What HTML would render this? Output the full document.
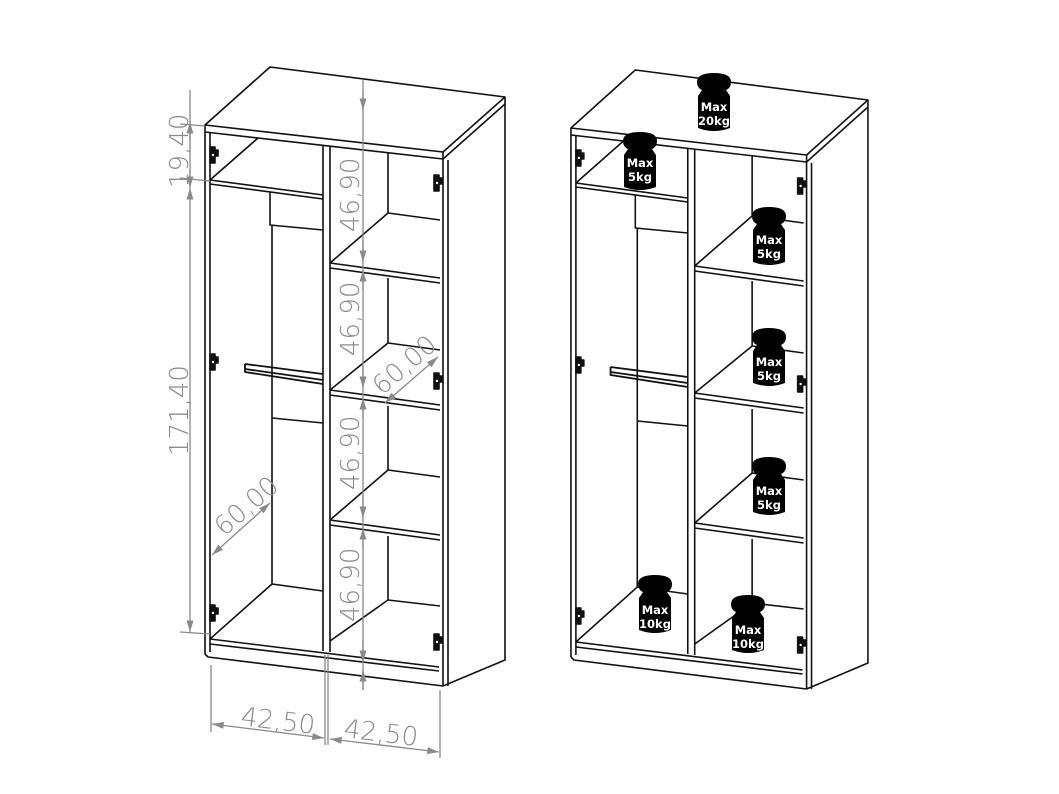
<!DOCTYPE html>
<html><head><meta charset="utf-8"><style>
html,body{margin:0;padding:0;background:#fff;}
svg{display:block}
.dim{font-family:"DejaVu Sans","Liberation Sans",sans-serif;font-size:26px;fill:#8a8a8a;font-weight:300}
.w{font-family:"DejaVu Sans","Liberation Sans",sans-serif;font-size:11.5px;font-weight:bold;fill:#fff;text-anchor:middle}
</style></head><body>
<svg width="1059" height="794" viewBox="0 0 1059 794" xmlns="http://www.w3.org/2000/svg">
<defs>
<marker id="ar" viewBox="0 0 10 10" refX="10" refY="5" markerWidth="9" markerHeight="9" orient="auto-start-reverse"><path d="M0,2 L10,5 L0,8 z" fill="#8a8a8a"/></marker>
<g id="hinge"><path d="M-3,-8 h5 v3 h3 v6 h-3 v7 h-5 z" fill="#111"/><circle cx="0" cy="0" r="2" fill="#fff"/></g>
<g id="cab" fill="none" stroke="#111" stroke-width="1.6" stroke-linejoin="round">
 <path d="M205,125 L270,67 L505,97 L443,152 Z" fill="#fff"/>
 <path d="M205,125 L205,132 L443,159 L443,152"/>
 <path d="M443,159 L505,104 L505,97"/>
 <path d="M443,159 L443,686 M448,160 L448,686 M505,104 L505,660 L443,686"/>
 <path d="M205,132 L205,654 M210,133 L210,652"/>
 <path d="M205,654 L208,657 L443,686 M210,639 L439,667 M210,644 L439,671"/>
 <path d="M323,146 L323,651 M330,147 L330,652"/>
 <path d="M210,180 L258,138 M210,180 L323,195 M210,184 L323,199"/>
 <path d="M270,192 L270,225 L323,230 M272,226 L272,584 M272,392 L272,418 L323,423"/>
 <path d="M245,364 L323,374 M245,369 L323,380 M245,364 L245,372 L323,384" stroke-width="1.8"/>
 <path d="M210,639 L272,584 L323,591"/>
 <path d="M388,152 L388,213 M388,278 L388,343 M388,406 L388,470 M388,536 L388,600"/>
 <path d="M330,263 L388,213 L440,220 M330,263 L440,278 M330,268 L440,283"/>
 <path d="M330,390 L388,343 L440,350 M330,390 L440,405 M330,395 L440,410"/>
 <path d="M330,520 L388,470 L440,477 M330,520 L440,535 M330,525 L440,540"/>
 <path d="M330,641 L388,600 L440,606"/>
 <use href="#hinge" x="213" y="155"/><use href="#hinge" x="213" y="362"/><use href="#hinge" x="213" y="613"/>
 <use href="#hinge" x="437" y="183"/><use href="#hinge" x="437" y="381"/><use href="#hinge" x="437" y="642"/>
</g>
<g id="wt"><path d="M-17,-22 Q-17,-31 0,-31 Q17,-31 17,-22 Q17,-16 12,-14 L16,-8 L16,24 Q0,30 -16,24 L-16,-8 L-12,-14 Q-17,-16 -17,-22 Z" fill="#000"/></g>
</defs>
<use href="#cab"/>
<use href="#cab" transform="translate(368,3) scale(0.99,1)"/>
<g stroke="#8a8a8a" stroke-width="1.3" fill="none">
 <line x1="190" y1="90" x2="190" y2="180" />
 <line x1="190" y1="140" x2="190" y2="122" marker-end="url(#ar)"/>
 <line x1="190" y1="170" x2="190" y2="188" marker-end="url(#ar)"/>
 <line x1="190" y1="188" x2="190" y2="632" marker-start="url(#ar)" marker-end="url(#ar)"/>
 <line x1="180" y1="124" x2="205" y2="126"/><line x1="180" y1="178" x2="210" y2="181"/><line x1="180" y1="632" x2="210" y2="634"/>
 <line x1="363" y1="80" x2="363" y2="690"/>
 <line x1="363" y1="90" x2="363" y2="110" marker-end="url(#ar)"/>
 <line x1="363" y1="240" x2="363" y2="262" marker-end="url(#ar)"/>
 <line x1="363" y1="290" x2="363" y2="270" marker-end="url(#ar)"/>
 <line x1="363" y1="365" x2="363" y2="388" marker-end="url(#ar)"/>
 <line x1="363" y1="418" x2="363" y2="398" marker-end="url(#ar)"/>
 <line x1="363" y1="495" x2="363" y2="518" marker-end="url(#ar)"/>
 <line x1="363" y1="548" x2="363" y2="528" marker-end="url(#ar)"/>
 <line x1="363" y1="640" x2="363" y2="662" marker-end="url(#ar)"/>
 <line x1="363" y1="690" x2="363" y2="670" marker-end="url(#ar)"/>
 <line x1="385" y1="403" x2="438" y2="357" marker-start="url(#ar)" marker-end="url(#ar)"/>
 <line x1="212" y1="555" x2="270" y2="503" marker-start="url(#ar)" marker-end="url(#ar)"/>
 <line x1="211" y1="665" x2="211" y2="732"/><line x1="325" y1="655" x2="325" y2="745"/><line x1="328" y1="655" x2="328" y2="745"/><line x1="440" y1="690" x2="440" y2="758"/>
 <line x1="212" y1="724" x2="324" y2="738" marker-start="url(#ar)" marker-end="url(#ar)"/>
 <line x1="330" y1="739" x2="439" y2="752" marker-start="url(#ar)" marker-end="url(#ar)"/>
</g>
<text class="dim" transform="translate(188,188) rotate(-90)">19,40</text>
<text class="dim" transform="translate(188,456) rotate(-90)">171,40</text>
<text class="dim" transform="translate(359,232) rotate(-90)">46,90</text>
<text class="dim" transform="translate(359,356) rotate(-90)">46,90</text>
<text class="dim" transform="translate(359,490) rotate(-90)">46,90</text>
<text class="dim" transform="translate(359,622) rotate(-90)">46,90</text>
<text class="dim" transform="translate(382,396) rotate(-41)">60,00</text>
<text class="dim" transform="translate(224,537) rotate(-41)">60,00</text>
<text class="dim" transform="translate(240,725) rotate(7)">42,50</text>
<text class="dim" transform="translate(343,737) rotate(7)">42,50</text>
<use href="#wt" x="714" y="104"/><text class="w" x="714" y="111">Max</text><text class="w" x="714" y="125">20kg</text>
<use href="#wt" x="640" y="163"/><text class="w" x="640" y="167">Max</text><text class="w" x="640" y="181">5kg</text>
<use href="#wt" x="769" y="238"/><text class="w" x="769" y="244">Max</text><text class="w" x="769" y="258">5kg</text>
<use href="#wt" x="769" y="359"/><text class="w" x="769" y="366">Max</text><text class="w" x="769" y="380">5kg</text>
<use href="#wt" x="769" y="488"/><text class="w" x="769" y="495">Max</text><text class="w" x="769" y="509">5kg</text>
<use href="#wt" x="655" y="606"/><text class="w" x="655" y="614">Max</text><text class="w" x="655" y="628">10kg</text>
<use href="#wt" x="748" y="626"/><text class="w" x="748" y="634">Max</text><text class="w" x="748" y="648">10kg</text>
</svg>
</body></html>
